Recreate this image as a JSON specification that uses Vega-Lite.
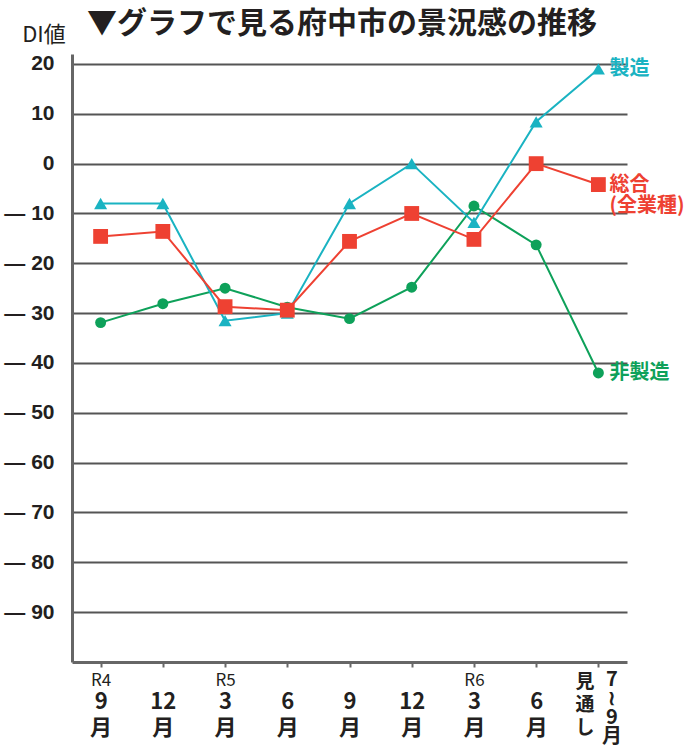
{
  "$schema": "https://vega.github.io/schema/vega-lite/v6.json",
  "autosize": {"type": "none"},
  "width": 555,
  "height": 608,
  "padding": {"left": 72, "top": 54, "right": 63, "bottom": 88},
  "background": "white",
  "title": {
    "text": "▼グラフで見る府中市の景況感の推移",
    "anchor": "start",
    "frame": "group",
    "dx": 15,
    "offset": -40,
    "baseline": "alphabetic",
    "font": "Noto Sans CJK JP",
    "fontSize": 30,
    "fontWeight": "bold",
    "color": "#231f20"
  },
  "data": {
    "values": [
      {"period": "R4.9", "series": "非製造", "value": -31.9},
      {"period": "R4.12", "series": "非製造", "value": -28.1},
      {"period": "R5.3", "series": "非製造", "value": -25},
      {"period": "R5.6", "series": "非製造", "value": -28.8},
      {"period": "R5.9", "series": "非製造", "value": -31.1},
      {"period": "R5.12", "series": "非製造", "value": -24.8},
      {"period": "R6.3", "series": "非製造", "value": -8.5},
      {"period": "R6.6", "series": "非製造", "value": -16.3},
      {"period": "見通し", "series": "非製造", "value": -42},
      {"period": "R4.9", "series": "製造", "value": -8},
      {"period": "R4.12", "series": "製造", "value": -8},
      {"period": "R5.3", "series": "製造", "value": -31.5},
      {"period": "R5.6", "series": "製造", "value": -30},
      {"period": "R5.9", "series": "製造", "value": -8},
      {"period": "R5.12", "series": "製造", "value": 0},
      {"period": "R6.3", "series": "製造", "value": -11.8},
      {"period": "R6.6", "series": "製造", "value": 8.4},
      {"period": "見通し", "series": "製造", "value": 19},
      {"period": "R4.9", "series": "総合", "value": -14.6},
      {"period": "R4.12", "series": "総合", "value": -13.6},
      {"period": "R5.3", "series": "総合", "value": -28.7},
      {"period": "R5.6", "series": "総合", "value": -29.4},
      {"period": "R5.9", "series": "総合", "value": -15.6},
      {"period": "R5.12", "series": "総合", "value": -10},
      {"period": "R6.3", "series": "総合", "value": -15.2},
      {"period": "R6.6", "series": "総合", "value": 0},
      {"period": "見通し", "series": "総合", "value": -4.2}
    ]
  },
  "encoding": {
    "y": {
      "field": "value",
      "type": "quantitative",
      "scale": {"domain": [-100, 22], "nice": false, "zero": false},
      "axis": {
        "title": "DI値",
        "titleAngle": 0,
        "titleX": -28.5,
        "titleY": -20,
        "titleAlign": "center",
        "titleBaseline": "middle",
        "titleFont": "Noto Sans CJK JP",
        "titleFontSize": 22,
        "titleFontWeight": "normal",
        "titleColor": "#231f20",
        "values": [20, 10, 0, -10, -20, -30, -40, -50, -60, -70, -80, -90],
        "labelExpr": "datum.value < 0 ? '— ' + abs(datum.value) : '' + datum.value",
        "labelFont": "Liberation Sans",
        "labelFontWeight": "bold",
        "labelFontSize": 21,
        "labelColor": "#231f20",
        "labelPadding": 18,
        "labelBaseline": "middle",
        "ticks": false,
        "tickSize": 0,
        "domain": true,
        "domainColor": "#666666",
        "domainWidth": 3,
        "grid": true,
        "gridColor": "#555555",
        "gridWidth": 2
      }
    }
  },
  "layer": [
    {
      "mark": {"type": "line", "strokeWidth": 2},
      "encoding": {
        "x": {
          "field": "period",
          "type": "ordinal",
          "scale": {"type": "point", "padding": 0.46, "domain": ["R4.9", "R4.12", "R5.3", "R5.6", "R5.9", "R5.12", "R6.3", "R6.6", "見通し"]},
          "axis": {
            "orient": "bottom",
            "title": null,
            "grid": false,
            "domain": true,
            "domainColor": "#666666",
            "domainWidth": 3,
            "ticks": true,
            "tickColor": "#666666",
            "tickWidth": 2,
            "tickSize": 5,
            "labelAngle": 0,
            "labelExpr": "datum.value == '見通し' ? ['見','通','し'] : (indexof(['R4.9','R5.3','R6.3'], datum.value) >= 0 ? slice(datum.value, 0, 2) : '')",
            "labelFont": "Liberation Sans Narrow, Noto Sans CJK JP",
            "labelFontSize": {"condition": {"test": "datum.value == '見通し'", "value": 19}, "value": 17},
            "labelFontWeight": {"condition": {"test": "datum.value == '見通し'", "value": "bold"}, "value": "normal"},
            "labelOffset": {"condition": {"test": "datum.value == '見通し'", "value": -14}, "value": 0},
            "labelLineHeight": 23,
            "labelPadding": 5,
            "labelBaseline": "top",
            "labelColor": "#231f20",
            "labelOverlap": false
          }
        },
        "color": {
          "field": "series",
          "type": "nominal",
          "scale": {"domain": ["非製造", "製造", "総合"], "range": ["#0ea15a", "#1ab3c2", "#ee4132"]},
          "legend": null
        }
      }
    },
    {
      "mark": {"type": "point", "filled": true, "opacity": 1},
      "encoding": {
        "x": {
          "field": "period",
          "type": "ordinal",
          "scale": {"type": "point", "padding": 0.46, "domain": ["R4.9", "R4.12", "R5.3", "R5.6", "R5.9", "R5.12", "R6.3", "R6.6", "見通し"]},
          "axis": {
            "orient": "bottom",
            "title": null,
            "grid": false,
            "domain": false,
            "ticks": false,
            "tickSize": 0,
            "labelAngle": 0,
            "labelExpr": "datum.value == '見通し' ? '' : [split(datum.value, '.')[1], '月']",
            "labelFont": "Liberation Sans Narrow, Noto Sans CJK JP",
            "labelFontSize": 22,
            "labelFontWeight": "bold",
            "labelLineHeight": 26,
            "labelPadding": 29,
            "labelBaseline": "top",
            "labelColor": "#231f20",
            "labelOverlap": false
          }
        },
        "color": {"field": "series", "type": "nominal", "legend": null},
        "shape": {
          "field": "series",
          "type": "nominal",
          "scale": {"domain": ["非製造", "製造", "総合"], "range": ["circle", "triangle-up", "square"]},
          "legend": null
        },
        "size": {
          "field": "series",
          "type": "nominal",
          "scale": {"domain": ["非製造", "製造", "総合"], "range": [120, 220, 115]},
          "legend": null
        }
      }
    },
    {
      "transform": [{"filter": "datum.period == '見通し'"}],
      "mark": {
        "type": "text",
        "align": "left",
        "baseline": "middle",
        "dx": 11,
        "font": "Noto Sans CJK JP",
        "fontSize": 20,
        "fontWeight": "bold",
        "lineHeight": 21
      },
      "encoding": {
        "x": {
          "field": "period",
          "type": "ordinal",
          "scale": {"type": "point", "padding": 0.46, "domain": ["R4.9", "R4.12", "R5.3", "R5.6", "R5.9", "R5.12", "R6.3", "R6.6", "見通し"]},
          "axis": {
            "orient": "bottom",
            "title": null,
            "grid": false,
            "domain": false,
            "ticks": false,
            "tickSize": 0,
            "labelAngle": 0,
            "labelExpr": "datum.value == '見通し' ? ['7','≀','9','月'] : ''",
            "labelFont": "Liberation Sans Narrow, Noto Sans CJK JP",
            "labelFontSize": 20,
            "labelFontWeight": "bold",
            "labelLineHeight": 19,
            "labelPadding": 7,
            "labelOffset": 13,
            "labelBaseline": "top",
            "labelColor": "#231f20",
            "labelOverlap": false
          }
        },
        "text": {
          "condition": {"test": "datum.series == '総合'", "value": ["総合", "(全業種)"]},
          "field": "series"
        },
        "color": {"field": "series", "type": "nominal", "legend": null}
      }
    }
  ],
  "resolve": {"axis": {"x": "independent"}},
  "config": {
    "view": {"stroke": null}
  }
}
